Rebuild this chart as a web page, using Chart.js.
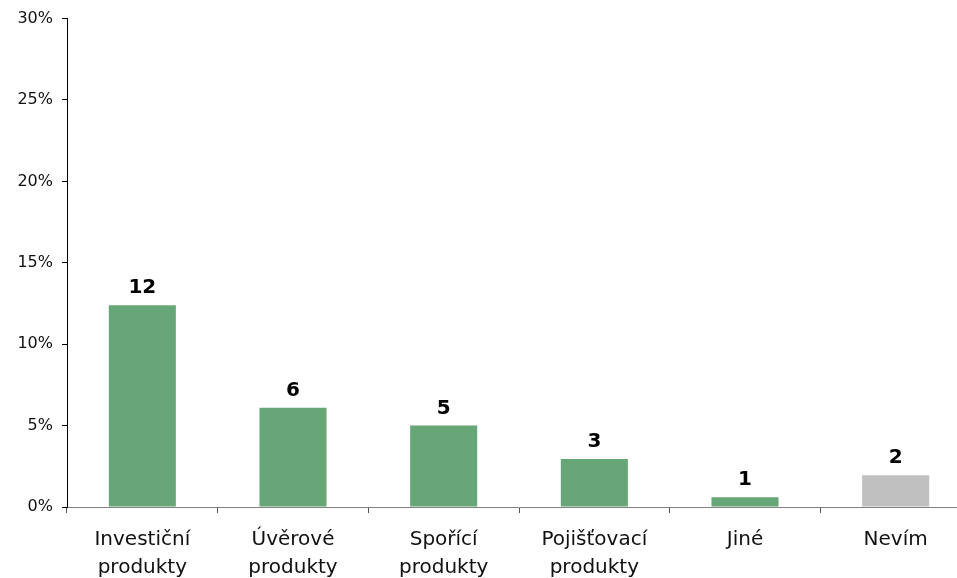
<!DOCTYPE html>
<html>
<head>
<meta charset="utf-8">
<script src="https://cdn.jsdelivr.net/npm/chart.js@4"></script>
<style>
  html, body { margin: 0; padding: 0; background: #fff; overflow: hidden; }
  #wrap { width: 971px; height: 578px; }
</style>
</head>
<body>
<div id="wrap"><canvas id="productChart" width="971" height="578"></canvas></div>
<script>
const categories = [['Investiční', 'produkty'], ['Úvěrové', 'produkty'], ['Spořící', 'produkty'], ['Pojišťovací', 'produkty'], 'Jiné', 'Nevím'];
const shares = [12.4, 6.1, 5.0, 2.95, 0.6, 1.95]; // percent
const barColors = ['#67a677', '#67a677', '#67a677', '#67a677', '#67a677', '#c0c0c0'];
const yTicks = [0, 5, 10, 15, 20, 25, 30];

// draws the rounded number above each bar
const valueLabels = {
    id: 'valueLabels',
    afterDatasetsDraw(chart) {
        const ctx = chart.ctx;
        const meta = chart.getDatasetMeta(0);
        ctx.save();
        ctx.font = 'bold 20px "DejaVu Sans"';
        ctx.fillStyle = '#000';
        ctx.textAlign = 'center';
        ctx.textBaseline = 'alphabetic';
        meta.data.forEach((bar, i) => {
            ctx.fillText(String(Math.round(shares[i])), bar.x, bar.y - 12);
        });
        ctx.restore();
    }
};

const ctx = document.getElementById('productChart').getContext('2d');
new Chart(ctx, {
    type: 'bar',
    data: {
        labels: categories,
        datasets: [{
            data: shares,
            backgroundColor: barColors,
            borderWidth: 0,
            categoryPercentage: 1,
            barPercentage: 0.445
        }]
    },
    options: {
        responsive: false,
        animation: false,
        layout: { padding: { top: 18, left: 0, right: 0, bottom: 0 } },
        plugins: {
            legend: { display: false },
            tooltip: { enabled: false }
        },
        scales: {
            x: {
                grid: { offset: true, drawOnChartArea: false, tickLength: 6, color: '#555' },
                border: { color: '#808080', width: 1 },
                ticks: {
                    color: '#111',
                    padding: 13,
                    maxRotation: 0,
                    font: { family: '"DejaVu Sans"', size: 20, lineHeight: 1.4 }
                },
                afterFit(scale) { scale.height = 71; }
            },
            y: {
                min: 0,
                max: 30,
                afterBuildTicks(scale) { scale.ticks = yTicks.map(v => ({ value: v })); },
                grid: { drawOnChartArea: false, tickLength: 5, color: '#000' },
                border: { color: '#000', width: 1 },
                ticks: {
                    color: '#111',
                    padding: 9,
                    font: { family: '"DejaVu Sans"', size: 16 },
                    callback: v => v + '%'
                },
                afterFit(scale) { scale.width = 67; }
            }
        }
    },
    plugins: [valueLabels]
});
</script>
</body>
</html>
